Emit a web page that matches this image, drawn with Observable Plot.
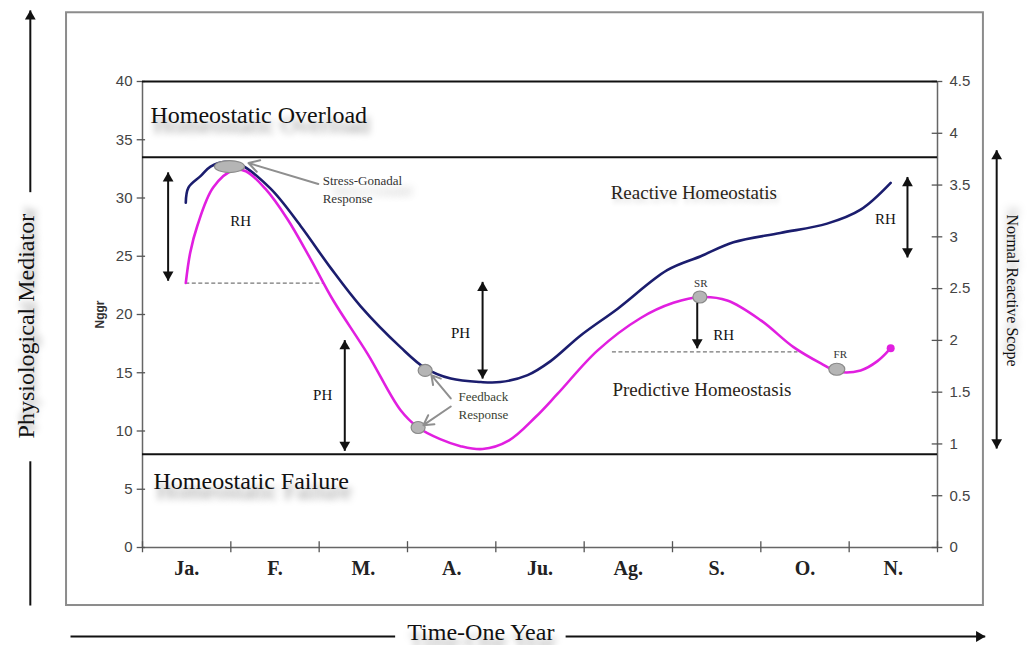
<!DOCTYPE html>
<html><head><meta charset="utf-8">
<script src="https://cdn.jsdelivr.net/npm/d3@7"></script>
<script src="https://cdn.jsdelivr.net/npm/@observablehq/plot@0.6"></script>
<style>body{margin:0;background:#fff;}</style>
</head><body><div id="chart"></div>
<script>
// ---- data ----
const months = ["Ja.", "F.", "M.", "A.", "Ju.", "Ag.", "S.", "O.", "N."];
const leftTicks = [0, 5, 10, 15, 20, 25, 30, 35, 40];
const rightTicks = [0, 0.5, 1, 1.5, 2, 2.5, 3, 3.5, 4, 4.5];
const boundaries = [0, 1, 2, 3, 4, 5, 6, 7, 8, 9];

// navy curve (reactive) : position along year (month units), mediator value
const navyX = [0.49, 0.52, 0.66, 0.77, 0.94, 1.1, 1.45, 1.79, 2.13, 2.47, 2.92, 3.2, 3.49, 3.83, 4.05, 4.36, 4.62, 4.96, 5.38, 5.94, 6.32, 6.69, 7.22, 7.75, 8.13, 8.47];
const navyY = [29.6, 30.9, 31.9, 32.7, 33.1, 32.9, 30.8, 27.6, 24.0, 20.7, 17.2, 15.4, 14.5, 14.2, 14.2, 14.8, 16.0, 18.2, 20.5, 23.8, 25.0, 26.2, 27.0, 27.8, 29.0, 31.3];
// magenta curve (predictive)
const magX = [0.49, 0.54, 0.62, 0.80, 1.03, 1.17, 1.39, 1.64, 1.90, 2.16, 2.55, 2.92, 3.12, 3.37, 3.6, 3.85, 4.15, 4.45, 4.7, 5.15, 5.64, 6.01, 6.32, 6.62, 7.0, 7.37, 7.68, 7.87, 8.13, 8.32, 8.47];
const magY = [22.7, 25.3, 27.6, 30.9, 32.4, 32.3, 30.8, 28.2, 24.8, 21.2, 16.6, 11.8, 10.3, 9.3, 8.7, 8.45, 9.2, 11.2, 13.2, 16.9, 19.7, 21.0, 21.5, 21.2, 19.5, 17.2, 15.8, 15.1, 15.2, 16.0, 17.1];

// limits
const limitLines = [40, 33.5, 8];
const dashed = [{y: 22.7, x1: 0.49, x2: 2.05}, {y: 16.8, x1: 5.32, x2: 7.42}];

// response markers
const markers = [
  {x: 0.985, y: 32.7, rx: 15, ry: 6},
  {x: 3.20, y: 15.2, rx: 7, ry: 6},
  {x: 3.12, y: 10.3, rx: 7, ry: 6},
  {x: 6.31, y: 21.5, rx: 7, ry: 6},
  {x: 7.86, y: 15.3, rx: 8, ry: 6}
];
const grayArrows = [
  {x1: 1.99, y1: 31.2, x2: 1.20, y2: 33.0},
  {x1: 3.49, y1: 12.8, x2: 3.27, y2: 14.8},
  {x1: 3.49, y1: 12.1, x2: 3.18, y2: 10.5}
];
// black vertical arrows
const vArrows = [
  {x: 0.29, y1: 32.2, y2: 22.9, top: true, bottom: true},
  {x: 2.29, y1: 17.8, y2: 8.3, top: true, bottom: true},
  {x: 3.85, y1: 22.8, y2: 14.5, top: true, bottom: true},
  {x: 6.28, y1: 21.0, y2: 17.1, top: false, bottom: true},
  {x: 8.66, y1: 31.8, y2: 24.9, top: true, bottom: true},
  {x: 9.67, y1: 34.1, y2: 8.5, top: true, bottom: true},
  {x: -1.27, y1: 7.4, y2: -4.98, top: false, bottom: false},
  {x: -1.27, y1: 46.1, y2: 30.5, top: true, bottom: false}
];
const hArrows = [
  {y: -7.64, x1: -0.815, x2: 2.86, right: false},
  {y: -7.64, x1: 4.79, x2: 9.54, right: true}
];

const bigLabels = [
  {text: "Homeostatic Overload", x: 0.09, y: 37.1},
  {text: "Homeostatic Failure", x: 0.125, y: 5.67}
];
const zoneLabels = [
  {text: "Reactive Homeostatis", x: 5.30, y: 30.4},
  {text: "Predictive Homeostasis", x: 5.32, y: 13.5}
];
const rangeLabels = [
  {text: "RH", x: 1.11, y: 28.0},
  {text: "RH", x: 6.58, y: 18.2},
  {text: "RH", x: 8.41, y: 28.2},
  {text: "PH", x: 3.60, y: 18.4},
  {text: "PH", x: 2.04, y: 13.1}
];
const smallLabels = [
  {text: "SR", x: 6.32, y: 22.7},
  {text: "FR", x: 7.90, y: 16.6}
];
const stressLabels = [
  {text: "Stress-Gonadal", x: 2.04, y: 31.5},
  {text: "Response", x: 2.04, y: 29.96}
];
const feedbackLabels = [
  {text: "Feedback", x: 3.86, y: 12.9},
  {text: "Response", x: 3.86, y: 11.4}
];

// ---- helpers ----
function ellipse(rx, ry) {
  const k = 0.5523;
  return {draw(ctx) {
    ctx.moveTo(rx, 0);
    ctx.bezierCurveTo(rx, ry * k, rx * k, ry, 0, ry);
    ctx.bezierCurveTo(-rx * k, ry, -rx, ry * k, -rx, 0);
    ctx.bezierCurveTo(-rx, -ry * k, -rx * k, -ry, 0, -ry);
    ctx.bezierCurveTo(rx * k, -ry, rx, -ry * k, rx, 0);
    ctx.closePath();
  }};
}
const navy = navyX.map((x, i) => ({x, y: navyY[i]}));
const mag = magX.map((x, i) => ({x, y: magY[i]}));
const headsUp = vArrows.filter(a => a.top).map(a => ({x: a.x, y: a.y1}));
const headsDown = vArrows.filter(a => a.bottom).map(a => ({x: a.x, y: a.y2}));
const headsRight = hArrows.filter(a => a.right).map(a => ({x: a.x2, y: a.y}));
const serif = "Liberation Serif, Times New Roman, serif";
const sans = "Liberation Sans, Arial, sans-serif";

const chart = Plot.plot({
  width: 1029, height: 645,
  marginLeft: 142, marginRight: 92, marginTop: 81, marginBottom: 98,
  x: {domain: [0, 9], axis: null},
  y: {domain: [0, 40], axis: null},
  style: {fontFamily: serif, background: "white", overflow: "visible"},
  marks: [
    // frame
    Plot.rect([0], {x1: -0.86, x2: 9.52, y1: -4.98, y2: 45.9, fill: "none", stroke: "#8c8c8c", strokeWidth: 2}),
    // axes lines
    Plot.ruleX([0, 9], {y1: 0, y2: 40, stroke: "#666", strokeWidth: 1.5}),
    Plot.ruleY([0], {x1: 0, x2: 9, stroke: "#666", strokeWidth: 1.5}),
    Plot.ruleY(leftTicks, {x1: -0.06, x2: 0.035, stroke: "#555", strokeWidth: 1.3}),
    Plot.ruleY(rightTicks.map(v => v * 40 / 4.5), {x1: 8.94, x2: 9.06, stroke: "#555", strokeWidth: 1.3}),
    Plot.ruleX(boundaries, {y1: -0.45, y2: 0.5, stroke: "#555", strokeWidth: 1.3}),
    Plot.axisY(leftTicks, {anchor: "left", tickSize: 0, tickPadding: 10, fontSize: 15, fontFamily: sans, color: "#444", label: null}),
    Plot.axisY(rightTicks.map(v => v * 40 / 4.5), {anchor: "right", tickSize: 0, tickPadding: 12, fontSize: 15, fontFamily: sans, color: "#444", label: null, tickFormat: d => String(+(d * 4.5 / 40).toFixed(1))}),
    Plot.text(months, {x: (d, i) => i + 0.5, y: 0, dy: 21, fontSize: 20, fontWeight: "bold", fill: "#222"}),
    // limit lines
    Plot.ruleY(limitLines, {x1: 0, x2: 9, stroke: "#111", strokeWidth: 2}),
    Plot.ruleY(dashed, {y: "y", x1: "x1", x2: "x2", stroke: "#777", strokeWidth: 1.3, strokeDasharray: "4,2.5"}),
    // curves
    Plot.line(navy, {x: "x", y: "y", curve: "catmull-rom", stroke: "#1b1d6e", strokeWidth: 2.6}),
    Plot.line(mag, {x: "x", y: "y", curve: "catmull-rom", stroke: "#e11fe0", strokeWidth: 2.6}),
    Plot.dot(mag.slice(-1), {x: "x", y: "y", r: 4, fill: "#e11fe0"}),
    // markers
    ...markers.map(m => Plot.dot([m], {x: "x", y: "y", symbol: ellipse(m.rx, m.ry), fill: "#b5b5b5", stroke: "#8a8a8a", strokeWidth: 1.2})),
    Plot.arrow(grayArrows, {x1: "x1", y1: "y1", x2: "x2", y2: "y2", stroke: "#8f8f8f", strokeWidth: 2, headLength: 9}),
    // black arrows
    Plot.link(vArrows, {x1: "x", x2: "x", y1: "y1", y2: "y2", stroke: "#111", strokeWidth: 2}),
    Plot.link(hArrows, {x1: "x1", x2: "x2", y1: "y", y2: "y", stroke: "#111", strokeWidth: 2}),
    Plot.dot(headsUp, {x: "x", y: "y", symbol: "triangle", r: 4, dy: 6, fill: "#111"}),
    Plot.dot(headsDown, {x: "x", y: "y", symbol: "triangle", r: 4, dy: -6, rotate: 180, fill: "#111"}),
    Plot.dot(headsRight, {x: "x", y: "y", symbol: "triangle", r: 4, dx: -6, rotate: 90, fill: "#111"}),
    // texts
    Plot.text(bigLabels, {x: "x", y: "y", text: "text", textAnchor: "start", fontSize: 24, fill: "#111"}),
    Plot.text(zoneLabels, {x: "x", y: "y", text: "text", textAnchor: "start", fontSize: 19, fill: "#2a2418"}),
    Plot.text(rangeLabels, {x: "x", y: "y", text: "text", fontSize: 15, fill: "#111"}),
    Plot.text(smallLabels, {x: "x", y: "y", text: "text", fontSize: 11, fill: "#333"}),
    Plot.text(stressLabels, {x: "x", y: "y", text: "text", textAnchor: "start", fontSize: 13, fill: "#333"}),
    Plot.text(feedbackLabels, {x: "x", y: "y", text: "text", fontSize: 13, fill: "#3a3f33"}),
    Plot.text(["Physiological Mediator"], {x: -1.32, y: 19.0, rotate: -90, fontSize: 24, fill: "#111"}),
    Plot.text(["Time-One Year"], {x: 3.83, y: -7.3, fontSize: 24, fill: "#111"}),
    Plot.text(["Normal Reactive Scope"], {x: 9.85, y: 22.06, rotate: 90, fontSize: 16, fill: "#111"}),
    Plot.text(["Nggr"], {x: -0.475, y: 20.0, rotate: -90, fontSize: 12, fontWeight: "bold", fontFamily: sans, fill: "#333"})
  ]
});
document.getElementById("chart").appendChild(chart);

// soft drop shadows under the big captions
const shadowed = {
  "Homeostatic Overload": "3px 10px 7px rgba(0,0,0,0.4)",
  "Homeostatic Failure": "3px 10px 7px rgba(0,0,0,0.4)",
  "Physiological Mediator": "7px 2px 7px rgba(0,0,0,0.4)",
  "Time-One Year": "2px 9px 7px rgba(0,0,0,0.35)",
  "Normal Reactive Scope": "-7px 0px 9px rgba(0,0,0,0.35)",
  "Stress-Gonadal": "10px 10px 9px rgba(0,0,0,0.3)",
  "Reactive Homeostatis": "2px 4px 5px rgba(0,0,0,0.15)"
};
d3.select(chart).selectAll("text").each(function () {
  const t = this.textContent;
  if (shadowed[t]) d3.select(this).style("text-shadow", shadowed[t]);
});
</script>
</body></html>
